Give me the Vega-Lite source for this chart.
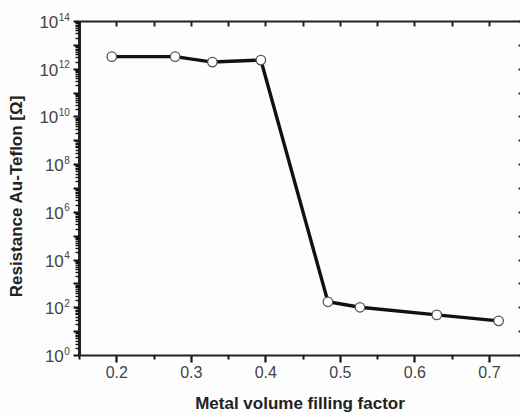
{
  "$schema": "https://vega.github.io/schema/vega-lite/v6.json",
  "autosize": "none",
  "width": 441,
  "height": 334,
  "padding": {"left": 79, "top": 21, "right": 0, "bottom": 58},
  "background": "#fdfdfd",
  "config": {
    "view": {"stroke": null},
    "font": "Liberation Sans",
    "axis": {"labelFont": "Liberation Sans", "titleFont": "Liberation Sans", "grid": false, "labelFlush": false, "labelOverlap": false}
  },
  "data": {
    "values": [
      {"f": 0.194, "r": 3.2e12},
      {"f": 0.279, "r": 3.2e12},
      {"f": 0.329, "r": 1.9e12},
      {"f": 0.394, "r": 2.3e12},
      {"f": 0.484, "r": 170},
      {"f": 0.527, "r": 100},
      {"f": 0.630, "r": 48},
      {"f": 0.713, "r": 27}
    ]
  },
  "encoding": {
    "x": {"field": "f", "type": "quantitative", "scale": {"domain": [0.15, 0.7417], "nice": false, "zero": false}},
    "y": {"field": "r", "type": "quantitative", "scale": {"type": "log", "domain": [1, 1e14], "nice": false}}
  },
  "layer": [
    {
      "mark": {"type": "line", "color": "#111", "strokeWidth": 3.4},
      "encoding": {
        "x": {"field": "f", "type": "quantitative",
          "axis": {"orient": "bottom", "title": "Metal volume filling factor",
            "values": [0.2, 0.3, 0.4, 0.5, 0.6, 0.7],
            "format": ".1f",
            "ticks": true, "tickSize": 7, "tickWidth": 2.2, "tickColor": "#111",
            "domainColor": "#222", "domainWidth": 2,
            "labelFontSize": 16, "labelColor": "#444", "labelPadding": 2,
            "titleFontSize": 17, "titleFontWeight": "bold", "titleColor": "#222", "titlePadding": 15}},
        "y": {"field": "r", "type": "quantitative",
          "axis": {"orient": "left", "title": "Resistance Au-Teflon [Ω]",
            "values": [1,10,100,1e3,1e4,1e5,1e6,1e7,1e8,1e9,1e10,1e11,1e12,1e13,1e14],
            "labelExpr": "round(log(datum.value)/LN10) % 2 == 0 ? '10' : ''",
            "labelPadding": {"condition": {"test": "datum.value >= 1e10", "value": 15.2}, "value": 9.7},
            "labelOffset": 1.5,
            "ticks": true, "tickSize": 6, "tickWidth": 2, "tickColor": "#111",
            "domainColor": "#222", "domainWidth": 3,
            "labelFontSize": 17, "labelColor": "#444",
            "titleFontSize": 17, "titleFontWeight": "bold", "titleColor": "#222",
            "titleX": -54, "titleY": 175}}
      }
    },
    {
      "mark": {"type": "point", "filled": true, "fill": "white", "stroke": "#555", "strokeWidth": 1.3, "size": 90, "opacity": 1},
      "encoding": {
        "x": {"field": "f", "type": "quantitative",
          "axis": {"orient": "top", "title": null, "labels": false,
            "values": [0.15, 0.2, 0.25, 0.3, 0.35, 0.4, 0.45, 0.5, 0.55, 0.6, 0.65, 0.7],
            "tickSize": -5, "tickWidth": 2, "tickColor": "#222",
            "domainColor": "#222", "domainWidth": 2}},
        "y": {"field": "r", "type": "quantitative",
          "axis": {"orient": "right", "title": null, "labels": false, "domain": false,
            "values": [1,10,100,1e3,1e4,1e5,1e6,1e7,1e8,1e9,1e10,1e11,1e12,1e13,1e14],
            "tickSize": -2, "tickWidth": 2, "tickColor": "#333"}}
      }
    },
    {
      "mark": {"type": "point", "opacity": 0},
      "encoding": {
        "x": {"field": "f", "type": "quantitative",
          "axis": {"orient": "bottom", "title": null, "labels": false, "domain": false,
            "values": [0.15, 0.25, 0.35, 0.45, 0.55, 0.65],
            "ticks": true, "tickSize": 4, "tickWidth": 2, "tickColor": "#111"}},
        "y": {"field": "r", "type": "quantitative",
          "axis": {"orient": "left", "title": null, "domain": false, "ticks": false, "tickSize": 0,
            "values": [1,100,1e4,1e6,1e8,1e10,1e12,1e14],
            "labelExpr": "format(round(log(datum.value)/LN10), 'd')",
            "labelPadding": 9.7, "labelOffset": -4,
            "labelFontSize": 10, "labelColor": "#444"}}
      }
    },
    {
      "mark": {"type": "point", "opacity": 0},
      "encoding": {
        "x": {"field": "f", "type": "quantitative", "axis": null},
        "y": {"field": "r", "type": "quantitative",
          "axis": {"orient": "left", "title": null, "domain": false, "labels": false,
            "values": [2,3,4,5,6,7,8,9,20,30,40,50,60,70,80,90,200,300,400,500,600,700,800,900,2e3,3e3,4e3,5e3,6e3,7e3,8e3,9e3,2e4,3e4,4e4,5e4,6e4,7e4,8e4,9e4,2e5,3e5,4e5,5e5,6e5,7e5,8e5,9e5,2e6,3e6,4e6,5e6,6e6,7e6,8e6,9e6,2e7,3e7,4e7,5e7,6e7,7e7,8e7,9e7,2e8,3e8,4e8,5e8,6e8,7e8,8e8,9e8,2e9,3e9,4e9,5e9,6e9,7e9,8e9,9e9,2e10,3e10,4e10,5e10,6e10,7e10,8e10,9e10,2e11,3e11,4e11,5e11,6e11,7e11,8e11,9e11,2e12,3e12,4e12,5e12,6e12,7e12,8e12,9e12,2e13,3e13,4e13,5e13,6e13,7e13,8e13,9e13],
            "ticks": true, "tickSize": 4, "tickWidth": 1.4, "tickColor": "#111"}}
      }
    }
  ],
  "resolve": {"axis": {"x": "independent", "y": "independent"}}
}
